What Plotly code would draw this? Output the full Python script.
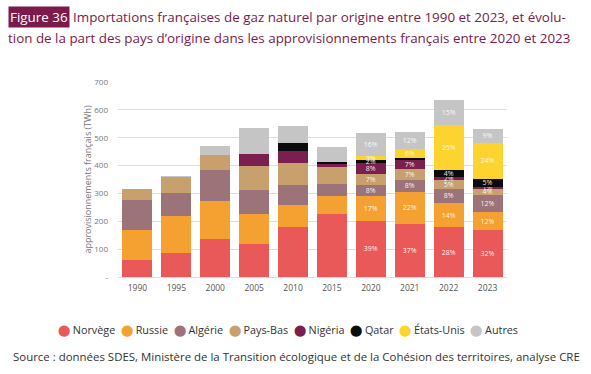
import plotly.graph_objects as go

years = ["1990", "1995", "2000", "2005", "2010", "2015", "2020", "2021", "2022", "2023"]
series_names = ["Norvège", "Russie", "Algérie", "Pays-Bas", "Nigéria", "Qatar", "États-Unis", "Autres"]

norvege = [60, 85, 137, 120, 179, 226, 202, 192, 178, 168]
russie = [110, 135, 136, 107, 79, 65, 89, 114, 89, 66]
algerie = [105, 82, 111, 86, 72, 44, 40, 42, 48, 60]
pays_bas = [42, 57, 55, 86, 81, 61, 40, 38, 33, 24]
nigeria = [0, 0, 0, 42, 41, 13, 39, 36, 12, 6]
qatar = [0, 0, 0, 0, 30, 3, 9, 6, 25, 27]
etats_unis = [0, 0, 0, 0, 0, 0, 14, 31, 159, 131]
autres = [0, 2, 31, 94, 59, 55, 83, 62, 93, 49]

pct_norvege = ["", "", "", "", "", "", "39%", "37%", "28%", "32%"]
pct_russie = ["", "", "", "", "", "", "17%", "22%", "14%", "12%"]
pct_algerie = ["", "", "", "", "", "", "8%", "8%", "8%", "12%"]
pct_pays_bas = ["", "", "", "", "", "", "7%", "7%", "5%", "4%"]
pct_nigeria = ["", "", "", "", "", "", "8%", "7%", "2%", "1%"]
pct_qatar = ["", "", "", "", "", "", "2%", "", "4%", "5%"]
pct_etats_unis = ["", "", "", "", "", "", "3%", "6%", "25%", "24%"]
pct_autres = ["", "", "", "", "", "", "16%", "12%", "15%", "9%"]

y_ticks = [0, 100, 200, 300, 400, 500, 600, 700]
y_tick_labels = ["-", "100", "200", "300", "400", "500", "600", "700"]

values = [norvege, russie, algerie, pays_bas, nigeria, qatar, etats_unis, autres]
pcts = [pct_norvege, pct_russie, pct_algerie, pct_pays_bas, pct_nigeria, pct_qatar, pct_etats_unis, pct_autres]
colors = ["#E9595A", "#F4A131", "#9B7378", "#C8A06E", "#7B1F4F", "#0B0B0B", "#FDD32F", "#C5C5C5"]

FONT = "Open Sans"
PURPLE = "#7B1A4B"

W, H = 591, 374
ML, MR, MT, MB = 118, 84, 82, 97
PW, PH = W - ML - MR, H - MT - MB


def px(xp):
    return (xp - ML) / PW


def py(yp):
    return (H - MB - yp) / PH


fig = go.Figure()
for name, v, p, c in zip(series_names, values, pcts, colors):
    fig.add_trace(go.Bar(
        x=years, y=v, name=name, marker=dict(color=c, line=dict(width=0)),
        text=p, textposition="inside", insidetextanchor="middle", textangle=0,
        constraintext="none", cliponaxis=False,
        textfont=dict(color="rgba(255,255,255,0.92)", size=7, family=FONT),
        showlegend=False,
    ))

legend_parts = []
for name, c in zip(series_names, colors):
    legend_parts.append(
        f"<span style='color:{c}'>⬤</span> {name}"
    )
legend_text = "  ".join(legend_parts)

fig.update_layout(
    barmode="stack",
    bargap=0.23,
    width=W, height=H,
    margin=dict(l=ML, r=MR, t=MT, b=MB, autoexpand=False),
    paper_bgcolor="white", plot_bgcolor="white",
    font=dict(family=FONT, color="#555"),
    showlegend=False,
    xaxis=dict(type="category", showgrid=False, showline=True, linecolor="#DDDDDD",
               linewidth=1, ticks="", tickfont=dict(size=8.5, color="#555", family=FONT),
               ticklabelstandoff=3, automargin=False),
    yaxis=dict(range=[0, 700], tickvals=y_ticks, ticktext=y_tick_labels,
               showgrid=True, gridcolor="#DDDDDD", gridwidth=1, zeroline=False,
               tickfont=dict(size=8, color="#777", family=FONT), ticks="",
               ticklabelstandoff=9, automargin=False,
               title=dict(text="approvisionnements français (TWh)",
                          font=dict(size=9, color="#777", family=FONT), standoff=0)),
    annotations=[
        dict(text="Figure 36", xref="paper", yref="paper", x=px(8), y=py(17),
             xanchor="left", yanchor="middle", showarrow=False, align="left",
             font=dict(size=13.4, color="white", family=FONT),
             bgcolor=PURPLE, borderpad=1),
        dict(text="Importations françaises de gaz naturel par origine entre 1990 et 2023, et évolu-",
             xref="paper", yref="paper", x=px(71), y=py(17), align="left",
             xanchor="left", yanchor="middle", showarrow=False,
             font=dict(size=13.4, color=PURPLE, family=FONT)),
        dict(text="tion de la part des pays d’origine dans les approvisionnements français entre 2020 et 2023",
             xref="paper", yref="paper", x=px(6), y=py(38), align="left",
             xanchor="left", yanchor="middle", showarrow=False,
             font=dict(size=13.4, color=PURPLE, family=FONT)),
        dict(text=legend_text,
             xref="paper", yref="paper", x=px(288), y=py(329), align="center",
             xanchor="center", yanchor="middle", showarrow=False,
             font=dict(size=10.8, color="#333", family=FONT)),
        dict(text="Source : données SDES, Ministère de la Transition écologique et de la Cohésion des territoires, analyse CRE",
             xref="paper", yref="paper", x=px(11), y=py(356), align="left",
             xanchor="left", yanchor="middle", showarrow=False,
             font=dict(size=11.45, color="#333", family=FONT)),
    ],
)

fig.write_html("out.html", config={"displayModeBar": False},
               post_script="document.body.style.margin='0';")
